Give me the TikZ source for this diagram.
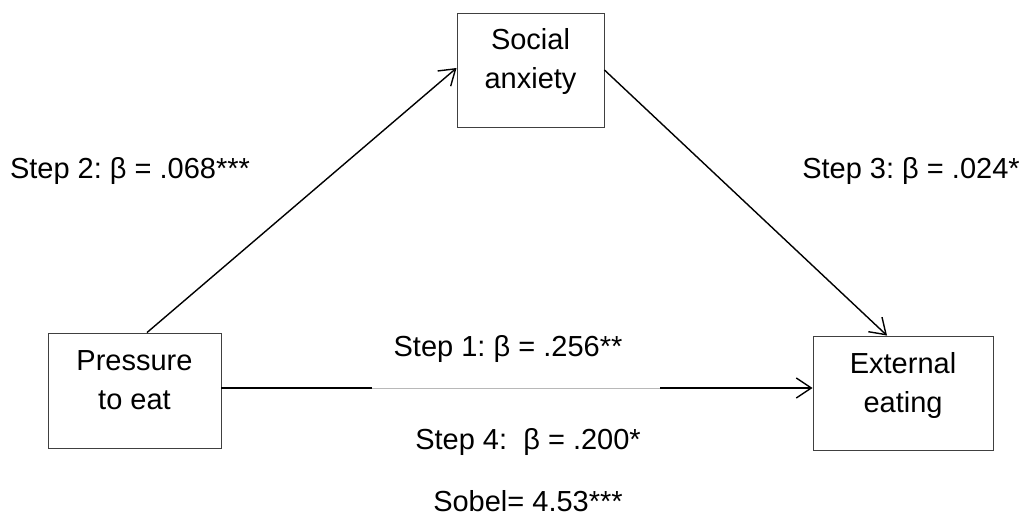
\documentclass[tikz,border=0pt]{standalone}
\usepackage{fontspec}
\setmainfont{Liberation Sans}
\usetikzlibrary{arrows.meta}
\frenchspacing
\begin{document}
\begin{tikzpicture}[x=1pt,y=-1pt,
  box/.style={draw=black!75, line width=0.9pt, inner sep=0pt},
  boxtext/.style={anchor=north, align=center, inner sep=0pt, font=\fontsize{29}{39}\selectfont\frenchspacing},
  lbl/.style={anchor=base, inner sep=0pt, font=\fontsize{29}{35}\selectfont\frenchspacing},
  conn/.style={line width=1.4pt, -{Straight Barb[length=15pt,width=20pt,line width=1.4pt]}},
  plain/.style={line width=1.4pt},
  faint/.style={line width=0.9pt, draw=black!28},
]
\useasboundingbox (0,0) rectangle (1030,521);
% boxes
\node[box, minimum width=147pt, minimum height=114pt] (soc) at (530.5,70) {};
\node[box, minimum width=173pt, minimum height=115pt] (pres) at (134.5,390.5) {};
\node[box, minimum width=180pt, minimum height=114pt] (ext) at (903,393) {};
% box texts
\node[boxtext] (soct) at (530.5,28) {Social\\anxiety};
\node[boxtext] (prest) at (134.5,350) {Pressure\\to eat};
\node[boxtext] (extt) at (903,352) {External\\eating};
% connectors
\coordinate (g1) at (372,388);
\coordinate (g2) at (660,388);
\draw[plain] (pres.east |- g1) -- (g1);
\draw[faint] (g1) -- (g2);
\draw[conn] (g2) -- (ext.west |- g2);
\draw[conn] ([xshift=12.5pt]pres.north) -- ([yshift=2pt]soc.west);
\draw[conn] (soc.east) -- ([xshift=-16pt]ext.north);
% labels
\node[lbl] (s2) at (130,179) {Step 2: β = .068***};
\node[lbl] (s3) at (911,179) {Step 3: β = .024*};
\node[lbl] (s1) at (508,356) {Step 1: β = .256**};
\node[lbl] (s4) at (528,449) {Step 4:\ \ β = .200*};
\node[lbl] (sob) at (528,511) {Sobel= 4.53***};
\end{tikzpicture}
\end{document}
